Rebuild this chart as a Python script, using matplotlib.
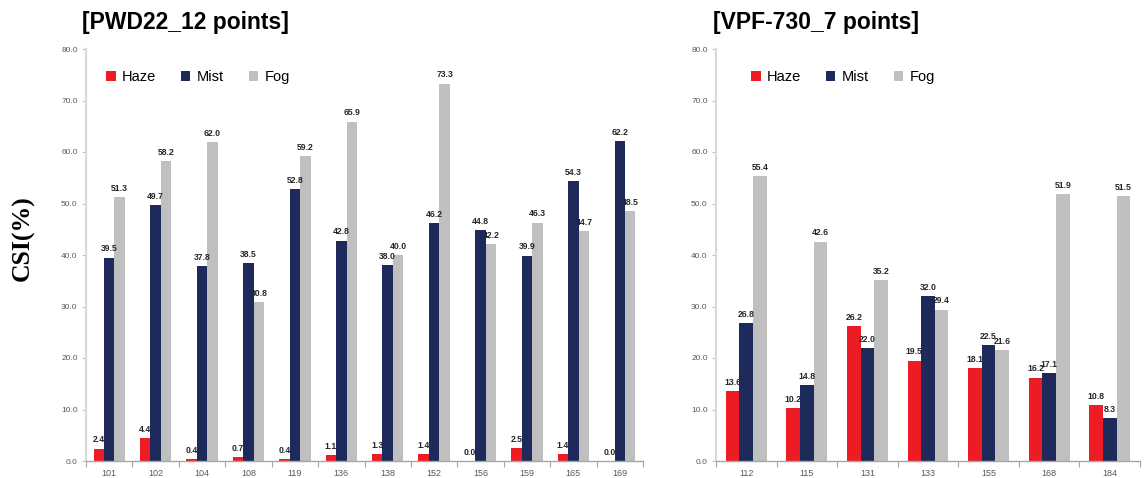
import numpy as np
import matplotlib
matplotlib.use('Agg')
import matplotlib.pyplot as plt
from matplotlib.ticker import FixedLocator, NullFormatter

# CSI (%) by station, per instrument
pwd_stations = ['101', '102', '104', '108', '119', '136', '138', '152', '156', '159', '165', '169']
pwd_haze = [2.4, 4.4, 0.4, 0.7, 0.4, 1.1, 1.3, 1.4, 0.0, 2.5, 1.4, 0.0]
pwd_mist = [39.5, 49.7, 37.8, 38.5, 52.8, 42.8, 38.0, 46.2, 44.8, 39.9, 54.3, 62.2]
pwd_fog = [51.3, 58.2, 62.0, 30.8, 59.2, 65.9, 40.0, 73.3, 42.2, 46.3, 44.7, 48.5]

vpf_stations = ['112', '115', '131', '133', '155', '168', '184']
vpf_haze = [13.6, 10.2, 26.2, 19.5, 18.1, 16.2, 10.8]
vpf_mist = [26.8, 14.8, 22.0, 32.0, 22.5, 17.1, 8.3]
vpf_fog = [55.4, 42.6, 35.2, 29.4, 21.6, 51.9, 51.5]

series_names = ['Haze', 'Mist', 'Fog']
colors = ['#ED1C24', '#1F2A5C', '#BFBFBF']

W, H = 1147, 478
fig = plt.figure(figsize=(W / 100, H / 100), dpi=100)
fig.patch.set_facecolor('white')

ax_bottom = 1 - 461 / H
ax_height = (461 - 49) / H


def draw_panel(rect, stations, series, title, title_x, legend_x):
    ax = fig.add_axes(rect)
    n = len(stations)
    x = np.arange(n) + 0.5
    bw = 0.225
    for k, (vals, c, name) in enumerate(zip(series, colors, series_names)):
        xs = x + (k - 1) * bw
        ax.bar(xs, vals, width=bw, color=c, label=name, zorder=2)
        for xi, v in zip(xs, vals):
            ax.annotate(f'{v:.1f}', (xi, v), xytext=(0, 3), textcoords='offset points',
                        ha='center', va='bottom', fontsize=6.2, fontweight='bold',
                        color='#262626', family='Liberation Sans', zorder=3)

    ax.set_xlim(0, n)
    ax.set_ylim(0, 80)
    ax.set_yticks(np.arange(0, 81, 10))
    ax.set_yticklabels([f'{v:.1f}' for v in np.arange(0, 81, 10)],
                       fontsize=6, color='#595959', family='Liberation Sans')
    ax.tick_params(axis='y', length=3, width=0.8, color='#BFBFBF', pad=3)

    # labels at group centres, tick marks at group boundaries
    ax.xaxis.set_major_locator(FixedLocator(x))
    ax.set_xticklabels(stations, fontsize=6.5, color='#595959', family='Liberation Sans')
    ax.tick_params(axis='x', which='major', length=0, pad=5.5)
    ax.xaxis.set_minor_locator(FixedLocator(np.arange(n + 1)))
    ax.xaxis.set_minor_formatter(NullFormatter())
    ax.tick_params(axis='x', which='minor', length=4, width=0.8, color='#A6A6A6')

    for s in ('top', 'right'):
        ax.spines[s].set_visible(False)
    ax.spines['left'].set_color('#D9D9D9')
    ax.spines['left'].set_linewidth(1.6)
    ax.spines['bottom'].set_color('#A6A6A6')
    ax.spines['bottom'].set_linewidth(1.0)

    ax.legend(loc='center left', bbox_to_anchor=(legend_x, 0.932), ncol=3, frameon=False,
              borderpad=0, borderaxespad=0, handlelength=0.65, handleheight=0.65,
              handletextpad=0.43, columnspacing=1.7,
              prop={'family': 'Liberation Sans', 'size': 10.5})

    fig.text(title_x / W, 1 - 29 / H, title, fontsize=16.5, fontweight='bold',
             family='Liberation Sans', ha='left', va='baseline', color='black')
    return ax


draw_panel([86 / W, ax_bottom, (643 - 86) / W, ax_height],
           pwd_stations, [pwd_haze, pwd_mist, pwd_fog],
           '[PWD22_12 points]', 82, 0.036)
draw_panel([716 / W, ax_bottom, (1140 - 716) / W, ax_height],
           vpf_stations, [vpf_haze, vpf_mist, vpf_fog],
           '[VPF-730_7 points]', 713, 0.083)

fig.text(23 / W, 1 - 238 / H, 'CSI(%)', rotation=90, fontsize=18.5, fontweight='bold',
         family='Liberation Serif', ha='center', va='center')

fig.savefig('out.png', dpi=100, facecolor='white')
